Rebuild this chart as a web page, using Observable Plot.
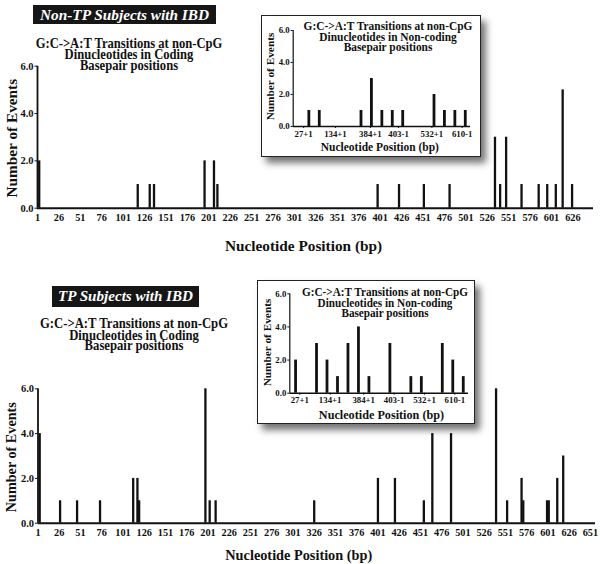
<!DOCTYPE html>
<html><head><meta charset="utf-8">
<script src="https://cdn.jsdelivr.net/npm/d3@7"></script>
<script src="https://cdn.jsdelivr.net/npm/@observablehq/plot@0.6"></script>
<style>
body{margin:0;background:#fff;}
#root{position:relative;width:600px;height:564px;overflow:hidden;font-family:"Liberation Serif","Times New Roman",serif;color:#111;background:#fff;}
.abs{position:absolute;}
.badge{background:#161616;color:#fff;font-style:italic;font-weight:bold;text-align:center;white-space:nowrap;}
.ttl{font-weight:bold;text-align:center;white-space:pre;transform:translateX(-50%) scaleY(1.08);}
.inset{background:#fff;border:1.5px solid #222;box-sizing:border-box;box-shadow:5px 6px 7px rgba(0,0,0,0.55);}
svg{overflow:visible;}
</style></head><body><div id="root"></div>
<script>
// ---------- data ----------
const mainTicksTop = [1,26,51,76,101,126,151,176,201,226,251,276,301,326,351,376,401,426,451,476,501,526,551,576,601,626];
const mainTicksBottom = [1,26,51,76,101,126,151,176,201,226,251,276,301,326,351,376,401,426,451,476,501,526,551,576,601,626,651];
const yTicks = [0,2,4,6];

// Non-TP subjects, coding positions
const nonTPCodingPos   = [3,118,132,137,196,207,211,398,423,452,482,535,541,548,566,586,596,606,614,625];
const nonTPCodingCount = [2,1,1,1,2,2,1,1,1,1,1,3,1,3,1,1,1,1,5,1];
// TP subjects, coding positions
const tpCodingPos   = [3,27,47,74,113,118,120,198,203,210,326,401,421,455,465,487,540,553,570,572,600,602,612,619];
const tpCodingCount = [4,1,1,1,2,2,1,6,1,1,1,2,2,1,4,4,6,1,2,1,1,1,2,3];

// Non-coding insets (bar slot index along the inset axis)
const nonTPNoncodingSlot  = [0,1,5,6,7,8,9,12,13,14,15];
const nonTPNoncodingCount = [1,1,1,3,1,1,1,2,1,1,1];
const tpNoncodingSlot  = [0,2,3,4,5,6,7,9,11,12,14,15,16];
const tpNoncodingCount = [2,3,2,1,3,4,1,3,1,1,3,2,1];

const insetTickLabels = ["27+1","134+1","384+1","403-1","532+1","610-1"];
const insetTickSlotsTop = [-0.5,2.55,5.9,8.6,11.8,14.7];
const insetTickSlotsBottom = [0.4,3.3,6.5,9.4,12.3,15.2];

const xLabel = "Nucleotide Position (bp)";
const yLabel = "Number of Events";
const codingTitle = "G:C->A:T Transitions at non-CpG\nDinucleotides in Coding\nBasepair positions";
const noncodingTitle = "G:C->A:T Transitions at non-CpG\nDinucleotides in Non-coding\nBasepair positions";

// ---------- drawing ----------
const FONT = "Liberation Serif, Times New Roman, serif";
const INK = "#111";
const root = document.getElementById("root");

function place(el, left, top) {
  el.style.position = "absolute";
  el.style.left = left + "px";
  el.style.top = top + "px";
  root.appendChild(el);
  return el;
}

function mainChart(o) {
  const data = o.pos.map((p, i) => ({p, n: o.count[i]}));
  return Plot.plot({
    width: 600, height: o.height,
    marginTop: o.mt, marginBottom: o.mb, marginLeft: o.ml, marginRight: o.mr,
    style: {fontFamily: FONT, fontWeight: "bold", fontSize: "10.5px", color: INK, background: "transparent", overflow: "visible"},
    x: {domain: o.xdomain},
    y: {domain: [0, 6]},
    marks: [
      Plot.ruleX(data, {x: "p", y1: 0, y2: "n", stroke: INK, strokeWidth: 2.3}),
      Plot.ruleX([o.xdomain[0]], {y1: 0, y2: 6, stroke: INK, strokeWidth: 1.8}),
      Plot.ruleY([0], {x1: o.xdomain[0], x2: o.xdomain[1], stroke: INK, strokeWidth: 2}),
      Plot.axisX({ticks: o.ticks, tickFormat: d => String(d), tickSize: 0, tickPadding: 5, fontSize: 10.3, label: null}),
      Plot.axisY({ticks: yTicks, tickFormat: d3.format(".1f"), tickSize: 2.5, tickPadding: 1.5, fontSize: 10.5, label: null}),
      Plot.text([xLabel], {frameAnchor: "bottom", textAnchor: "middle", lineAnchor: "middle", dx: o.xlDx, dy: o.xlDy, fontSize: o.xlFs, fill: INK}),
      Plot.text([yLabel], {frameAnchor: "left", textAnchor: "middle", lineAnchor: "middle", rotate: -90, dx: o.ylDx, dy: o.ylDy, fontSize: o.ylFs, fill: INK})
    ]
  });
}

function insetChart(o) {
  const data = o.slot.map((s, i) => ({s, n: o.count[i]}));
  const labelOf = new Map(o.tickSlots.map((s, i) => [s, insetTickLabels[i]]));
  return Plot.plot({
    width: o.w, height: o.h,
    marginTop: o.mt, marginBottom: o.mb, marginLeft: o.ml, marginRight: o.mr,
    style: {fontFamily: FONT, fontWeight: "bold", fontSize: "8.5px", color: INK, background: "transparent", overflow: "visible"},
    x: {domain: o.xdomain},
    y: {domain: [0, 6]},
    marks: [
      Plot.ruleX(data, {x: "s", y1: 0, y2: "n", stroke: INK, strokeWidth: 2.8}),
      Plot.ruleX([o.xdomain[0]], {y1: 0, y2: 6, stroke: INK, strokeWidth: 1.2}),
      Plot.ruleY([0], {x1: o.xdomain[0], x2: o.xdomain[1], stroke: INK, strokeWidth: 1.5}),
      Plot.axisX({ticks: o.tickSlots, tickFormat: d => labelOf.get(d), tickSize: 2, tickPadding: 2, fontSize: 8.8, label: null}),
      Plot.axisY({ticks: yTicks, tickFormat: d3.format(".1f"), tickSize: 2, tickPadding: 1.5, fontSize: 8.8, label: null}),
      Plot.text([xLabel], {frameAnchor: "bottom", textAnchor: "middle", lineAnchor: "middle", dx: o.xlDx, dy: o.xlDy, fontSize: o.xlFs, fill: INK}),
      Plot.text([yLabel], {frameAnchor: "left", textAnchor: "middle", lineAnchor: "middle", rotate: -90, dx: o.ylDx, dy: o.ylDy, fontSize: 11.3, fill: INK})
    ]
  });
}

function title(text, cx, firstCenter, fs, lh) {
  const d = document.createElement("div");
  d.className = "ttl";
  d.textContent = text;
  d.style.fontSize = fs + "px";
  d.style.lineHeight = lh + "px";
  d.style.transformOrigin = "50% 0";
  return place(d, cx, firstCenter - lh / 2);
}

function badge(text, left, top, w, h, fs) {
  const d = document.createElement("div");
  d.className = "badge";
  d.textContent = text;
  d.style.width = w + "px";
  d.style.height = h + "px";
  d.style.lineHeight = h + "px";
  d.style.fontSize = fs + "px";
  return place(d, left, top);
}

function insetBox(left, top, w, h) {
  const d = document.createElement("div");
  d.className = "inset";
  d.style.width = w + "px";
  d.style.height = h + "px";
  return place(d, left, top);
}

// ---- top panel ----
place(mainChart({
  pos: nonTPCodingPos, count: nonTPCodingCount, ticks: mainTicksTop,
  height: 262, mt: 65.7, mb: 54.3, ml: 37, mr: 7, xdomain: [1, 650],
  xlDx: -12, xlDy: 38.3, xlFs: 15.3, ylDx: -25, ylDy: 1, ylFs: 15.3
}), 0, 0);

// ---- bottom panel ----
place(mainChart({
  pos: tpCodingPos, count: tpCodingCount, ticks: mainTicksBottom,
  height: 282, mt: 106.3, mb: 41.3, ml: 37.5, mr: 5, xdomain: [1, 657],
  xlDx: -18, xlDy: 32.3, xlFs: 14.3, ylDx: -26.5, ylDy: 1.2, ylFs: 14.2
}), 0, 282);

// ---- insets ----
insetBox(261, 15, 220, 142);
place(insetChart({
  slot: nonTPNoncodingSlot, count: nonTPNoncodingCount, tickSlots: insetTickSlotsTop,
  w: 220, h: 142, mt: 15, mb: 31, ml: 31.7, mr: 11, xdomain: [-1.5, 15.5],
  xlDx: -2, xlDy: 20.7, xlFs: 11.5, ylDx: -22.7, ylDy: -2
}), 261, 15);

insetBox(257, 280, 218, 144);
place(insetChart({
  slot: tpNoncodingSlot, count: tpNoncodingCount, tickSlots: insetTickSlotsBottom,
  w: 218, h: 144, mt: 13.3, mb: 31.3, ml: 32.3, mr: 7, xdomain: [-0.55, 16.5],
  xlDx: 2.3, xlDy: 22.3, xlFs: 12.2, ylDx: -22.6, ylDy: -1
}), 257, 280);

// ---- titles ----
badge("Non-TP Subjects with IBD", 33, 5, 183, 19, 15.3);
badge("TP Subjects with IBD", 52, 286, 147, 21, 15.1);
title(codingTitle, 129, 43.3, 12.6, 10.3);
title(codingTitle, 134, 323, 12.7, 10.6);
title(noncodingTitle, 388, 25, 11.4, 10.0);
title(noncodingTitle, 385, 290.7, 11.2, 10.2);
</script></body></html>
